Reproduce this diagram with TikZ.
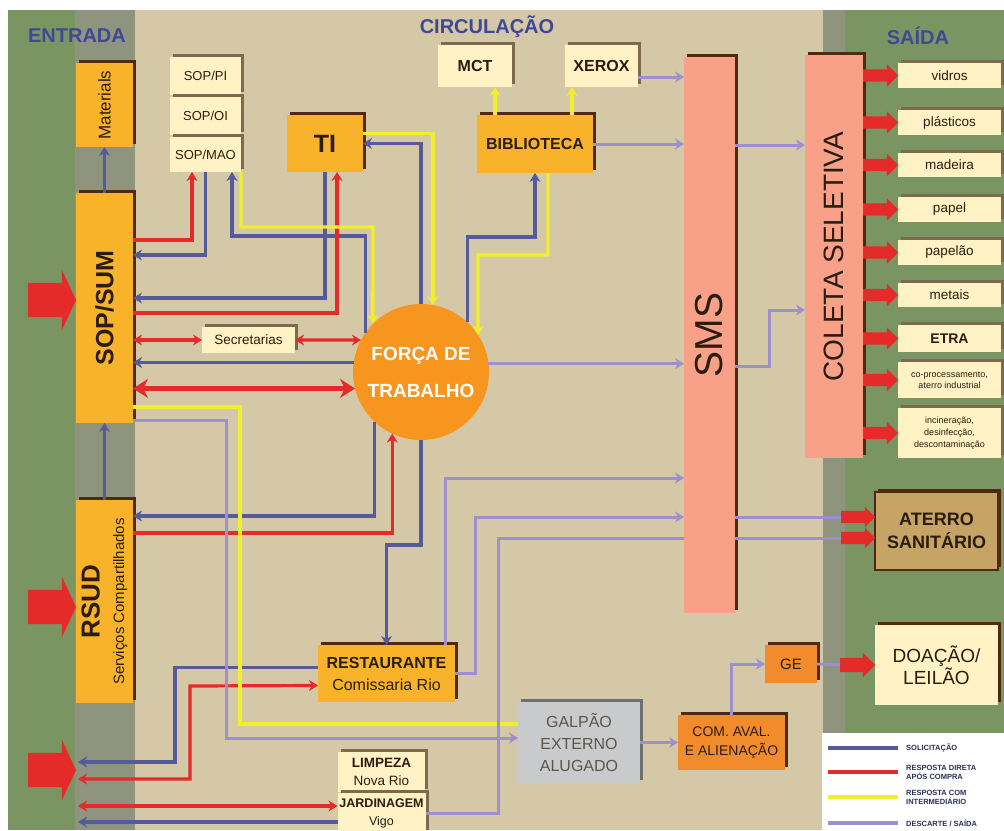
\documentclass[tikz,border=0pt]{standalone}
\usepackage{fontspec}
\setmainfont{Liberation Sans}
\usepackage{graphicx}
\usepackage{tikz}
\usetikzlibrary{positioning,arrows.meta,shapes.arrows,shadows}
\definecolor{fxbeige}{HTML}{D4C8A7}
\definecolor{fxgreen}{HTML}{7B9562}
\definecolor{fxhatch}{HTML}{8E947E}
\definecolor{fxgold}{HTML}{F8B32A}
\definecolor{fxcream}{HTML}{FFF2C4}
\definecolor{fxsalmon}{HTML}{F8A088}
\definecolor{fxbrown}{HTML}{4F2A10}
\definecolor{fxtaupe}{HTML}{7D6A4E}
\definecolor{fxcircle}{HTML}{F6961F}
\definecolor{fxorange}{HTML}{F28B2B}
\definecolor{fxtan}{HTML}{C6A466}
\definecolor{fxgrey}{HTML}{C9CACB}
\definecolor{fxink}{HTML}{2A1D0E}
\definecolor{fxtitle}{HTML}{3F4896}
\definecolor{fxnavy}{HTML}{2C2F5C}
\definecolor{fxblue}{HTML}{555A9C}
\definecolor{fxred}{HTML}{E52A2A}
\definecolor{fxyellow}{HTML}{F1EE2C}
\definecolor{fxlilac}{HTML}{9E8FCF}
\newcommand{\fsz}[2]{\fontsize{#1}{#2}\selectfont}
\tikzset{
  box/.style={inner sep=0pt,outer sep=0pt,align=center,text=fxink,general shadow={fill=#1,shadow xshift=3pt,shadow yshift=3pt}},
  box/.default=fxbrown,
  gold/.style={box,fill=fxgold},
  cream/.style={box=fxtaupe,fill=fxcream},
  salm/.style={box,fill=fxsalmon},
  dkor/.style={box,fill=fxorange},
  ttl/.style={font=\fsz{20}{22}\bfseries,text=fxtitle,inner sep=0pt},
  lgd/.style={font=\fsz{7.5}{9}\bfseries,text=fxnavy,anchor=west,align=left,inner sep=0pt},
  blk/.style={single arrow,fill=fxred,inner xsep=0pt,outer sep=0pt,anchor=tip},
  bigin/.style={blk,minimum height=48pt,inner ysep=17pt,single arrow head extend=13pt,single arrow tip angle=130},
  outarr/.style={blk,minimum height=35pt,inner ysep=6pt,single arrow head extend=5pt},
  sol/.style={draw=fxblue,line width=3.2pt,-{Stealth[length=9pt,width=11pt]}},
  resp/.style={draw=fxred,line width=3.2pt,-{Stealth[length=9pt,width=11pt]}},
  inter/.style={draw=fxyellow,line width=3.4pt,-{Stealth[length=9pt,width=11pt]}},
  desc/.style={draw=fxlilac,line width=3pt,-{Stealth[length=9pt,width=11pt]}},
  twoway/.style={{Stealth[length=9pt,width=11pt]}-{Stealth[length=9pt,width=11pt]}},
  fat/.style={line width=5.5pt,{Stealth[length=15pt,width=19pt]}-{Stealth[length=15pt,width=19pt]}},
}
\begin{document}
\begin{tikzpicture}[x=1pt,y=-1pt]
  \useasboundingbox (0,0) rectangle (1004,830);
  % background bands
  \fill[white] (0,0) rectangle (1004,830);
  \fill[fxgreen] (8,10) rectangle (75,830);
  \fill[fxhatch] (75,10) rectangle (135,830);
  \fill[fxbeige] (135,10) rectangle (823,830);
  \fill[fxhatch] (823,10) rectangle (845,830);
  \fill[fxgreen] (845,10) rectangle (1004,830);
  \fill[white] (822,733) rectangle (1004,830);

  \node[ttl] (entrada) at (77,36) {ENTRADA};
  \node[ttl] (circul) at (487,27) {CIRCULAÇÃO};
  \node[ttl] (saida) at (918,36) {SAÍDA};

  % entrada column
  \node[gold,minimum width=57pt,minimum height=84pt] (mat) at (104.5,105) {\rotatebox{90}{\fsz{17}{19}Materials}};
  \node[gold,minimum width=57pt,minimum height=230pt] (sopsum) at (104.5,308) {\rotatebox{90}{\fsz{25}{27}\bfseries SOP/SUM}};
  \node[gold,minimum width=57pt,minimum height=203pt] (rsud) at (104.5,601.5) {\rotatebox{90}{\begin{tabular}{@{}c@{}}\fsz{26}{28}\bfseries RSUD\\[10pt] \fsz{15}{17}Serviços Compartilhados\end{tabular}}};
  \node[bigin] (in1) at (sopsum.west |- 0,300) {};
  \node[bigin] (in2) at (rsud.west |- 0,607) {};
  \node[bigin] (in3) at (rsud.west |- 0,770) {};
  \coordinate (outb1) at (78,762);
  \coordinate (outr1) at (78,779);
  \coordinate (outr2) at (78,806);
  \coordinate (outb2) at (78,822);

  % circulacao
  \node[cream,minimum width=71pt,minimum height=38pt,font=\fsz{13}{15}] (sopi) at (205.5,76) {SOP/PI};
  \node[cream,minimum width=71pt,minimum height=38pt,font=\fsz{13}{15},below=2pt of sopi] (sooi) {SOP/OI};
  \node[cream,minimum width=71pt,minimum height=35pt,font=\fsz{13}{15},below=2pt of sooi] (mao) {SOP/MAO};
  \node[gold,minimum width=76pt,minimum height=57pt,font=\fsz{25}{27}\bfseries] (ti) at (325,143.5) {TI};
  \node[cream,minimum width=74pt,minimum height=42pt,font=\fsz{16}{18}\bfseries] (mct) at (475,66) {MCT};
  \node[cream,minimum width=73pt,minimum height=42pt,font=\fsz{16}{18}\bfseries] (xerox) at (601.5,66) {XEROX};
  \node[gold,minimum width=116pt,minimum height=58pt,font=\fsz{16}{18}\bfseries] (bib) at (535,144) {BIBLIOTECA};
  \node[cream,minimum width=93pt,minimum height=26pt,font=\fsz{13.5}{15}] (sec) at (248.5,340) {Secretarias};
  \node[circle,fill=fxcircle,minimum size=136pt,inner sep=0pt,outer sep=0pt,text=white,align=center,font=\fsz{19}{37}\bfseries] (forca) at (421,372) {FORÇA DE\\TRABALHO};
  \node[gold,minimum width=137pt,minimum height=57pt,font=\fsz{16}{22}] (rest) at (386.5,673.5) {\textbf{RESTAURANTE}\\Comissaria Rio};
  \node[cream,minimum width=87pt,minimum height=40pt,font=\fsz{13.5}{18}] (limp) at (381.5,772) {\textbf{LIMPEZA}\\Nova Rio};
  \node[cream,minimum width=88pt,minimum height=40pt,font=\fsz{12.5}{18},below=1pt of limp] (jard) {\textbf{JARDINAGEM}\\Vigo};
  \node[box=fxgrey!55!black,fill=fxgrey,minimum width=122pt,minimum height=81pt,font=\fsz{16}{22},text=fxink!75] (galpao) at (579,742.5) {GALPÃO\\EXTERNO\\ALUGADO};
  \node[dkor,minimum width=107pt,minimum height=55pt,font=\fsz{14}{19}] (com) at (731.5,742.5) {COM. AVAL.\\E ALIENAÇÃO};
  \node[dkor,minimum width=52pt,minimum height=38pt,font=\fsz{15}{17}] (ge) at (791,664) {GE};
  \node[salm,minimum width=51pt,minimum height=556pt] (sms) at (709.5,335) {\rotatebox{90}{\fsz{39}{41}SMS}};
  \node[salm,minimum width=58pt,minimum height=403pt] (colet) at (834,256.5) {\rotatebox{90}{\fsz{28}{30}COLETA SELETIVA}};

  % saida column
  \node[cream,minimum width=103pt,minimum height=25pt,font=\fsz{13.5}{15}] (vidros) at (949.5,75.5) {vidros};
  \node[cream,minimum width=103pt,minimum height=25pt,font=\fsz{13.5}{15},below=22pt of vidros] (plast) {plásticos};
  \node[cream,minimum width=103pt,minimum height=24pt,font=\fsz{13.5}{15},below=18pt of plast] (madeira) {madeira};
  \node[cream,minimum width=103pt,minimum height=25pt,font=\fsz{13.5}{15},below=20pt of madeira] (papel) {papel};
  \node[cream,minimum width=103pt,minimum height=25pt,font=\fsz{13.5}{15},below=18pt of papel] (papelao) {papelão};
  \node[cream,minimum width=103pt,minimum height=24pt,font=\fsz{13.5}{15},below=18pt of papelao] (metais) {metais};
  \node[cream,minimum width=103pt,minimum height=27pt,font=\fsz{14}{16}\bfseries,below=18pt of metais] (etra) {ETRA};
  \node[cream,minimum width=103pt,minimum height=36pt,font=\fsz{9}{11.5},below=10pt of etra] (coproc) {co-processamento,\\aterro industrial};
  \node[cream,minimum width=103pt,minimum height=50pt,font=\fsz{9}{12},below=10pt of coproc] (incin) {incineração,\\desinfecção,\\descontaminação};
  \node[box,draw=fxbrown,line width=1.2pt,fill=fxtan,minimum width=123pt,minimum height=78pt,font=\fsz{18}{23}\bfseries] (aterro) at (936.5,531) {ATERRO\\SANITÁRIO};
  \node[box,fill=fxcream,minimum width=123pt,minimum height=80pt,font=\fsz{19}{22}] (doacao) at (936.5,665) {DOAÇÃO/\\LEILÃO};

  \node[outarr] (ov1) at (vidros.west) {};
  \node[outarr] (ov2) at (plast.west) {};
  \node[outarr] (ov3) at (madeira.west) {};
  \node[outarr] (ov4) at (papel.west) {};
  \node[outarr] (ov5) at (papelao.west) {};
  \node[outarr] (ov6) at (metais.west) {};
  \node[outarr] (ov7) at (etra.west) {};
  \node[outarr] (ov8) at (coproc.west) {};
  \node[outarr] (ov9) at (incin.west) {};
  \node[outarr,minimum height=34pt,single arrow head extend=4pt] (oat1) at ([yshift=14pt]aterro.west) {};
  \node[outarr,minimum height=34pt,single arrow head extend=4pt] (oat2) at ([yshift=-7pt]aterro.west) {};
  \node[outarr,inner ysep=7pt] (odo) at (doacao.west) {};

  % solicitacao
  \draw[sol] (sopsum.north) -- (mat.south);
  \draw[sol] (rsud.north) -- (sopsum.south);
  \draw[sol] (mao.south) |- (sopsum.east |- 0,255);
  \draw[sol] (forca.145) |- (232,236) -- (mao.south -| 232,0);
  \draw[sol] (ti.south) |- (sopsum.east |- 0,298);
  \draw[sol] (forca.north) |- (ti.east);
  \draw[sol] (forca.47) |- (bib.south |- 0,237) -- (bib.south);
  \draw[sol] (forca.172) -- (sopsum.east |- forca.172);
  \draw[sol] (forca.227) |- (rsud.east |- 0,516);
  \draw[sol] (forca.south) |- (rest.north |- 0,545) -- (rest.north);
  \draw[sol] ([yshift=6pt]rest.west) -| (175,762) -- (outb1);
  \draw[sol] ([yshift=-9pt]jard.west) -- (outb2);

  % resposta direta
  \draw[resp] (sopsum.east |- 0,240) -| (mao.south -| 192,0);
  \draw[resp] (sopsum.east |- 0,313) -| (ti.south -| 337,0);
  \draw[resp,twoway] (sopsum.east |- sec.west) -- (sec.west);
  \draw[resp,twoway] (sec.east) -- (forca.152);
  \draw[resp,fat] (sopsum.east |- forca.194) -- (forca.194);
  \draw[resp] (rsud.east |- 0,533) -| (forca.245);
  \draw[resp,twoway] (outr1) -| (190,686) -- ([yshift=-12pt]rest.west);
  \draw[resp,twoway] (outr2) -- ([yshift=7pt]jard.west);

  % resposta com intermediario
  \draw[inter] (mao.south east) |- (373,227) -- (forca.135);
  \draw[inter] ([yshift=10pt]ti.east) -| (forca.80);
  \draw[inter] ([xshift=13pt]bib.south) |- (478,255) -- (forca.33);
  \draw[inter] (bib.north -| 495,0) -- (mct.south -| 495,0);
  \draw[inter] (bib.north -| 572,0) -- (xerox.south -| 572,0);
  \draw[inter,-] (sopsum.east |- 0,407) -| (240,724) -- (galpao.west |- 0,724);

  % descarte / saida
  \draw[desc] (xerox.east |- 0,77) -- (sms.west |- 0,77);
  \draw[desc] (bib.east) -- (sms.west |- bib.east);
  \draw[desc] (forca.7) -- (sms.west |- forca.7);
  \draw[desc] (rest.north -| 445,0) |- (sms.west |- 0,478);
  \draw[desc] (rest.east) -| (475,517) -- (sms.west |- 0,517);
  \draw[desc,-] (jard.east) -| (498,538) -- (sms.west |- 0,538);
  \draw[desc,-] (sms.east |- oat1.tail) -- (oat1.tail);
  \draw[desc,-] (sms.east |- oat2.tail) -- (oat2.tail);
  \draw[desc] (sms.east |- 0,366) -| (769,310) -- (colet.west |- 0,310);
  \draw[desc] (sms.east |- 0,145) -- (colet.west |- 0,145);
  \draw[desc] (sopsum.east |- 0,420) -| (226,738) -- (galpao.west |- 0,738);
  \draw[desc] (galpao.east) -- (com.west);
  \draw[desc] (com.north) |- (ge.west);
  \draw[desc,-] (ge.east) -- (odo.tail);

  % legend
  \node[lgd] (lg1) at (906,748) {SOLICITAÇÃO};
  \node[lgd] (lg2) at (906,772) {RESPOSTA DIRETA\\APÓS COMPRA};
  \node[lgd] (lg3) at (906,797) {RESPOSTA COM\\INTERMEDIÁRIO};
  \node[lgd] (lg4) at (906,823) {DESCARTE / SAÍDA};
  \draw[fxblue,line width=4pt] ([xshift=-8pt]lg1.west) -- ++(-70,0);
  \draw[fxred,line width=4pt] ([xshift=-8pt]lg2.west) -- ++(-70,0);
  \draw[fxyellow,line width=4pt] ([xshift=-8pt]lg3.west) -- ++(-70,0);
  \draw[fxlilac,line width=4pt] ([xshift=-8pt]lg4.west) -- ++(-70,0);
\end{tikzpicture}
\end{document}
